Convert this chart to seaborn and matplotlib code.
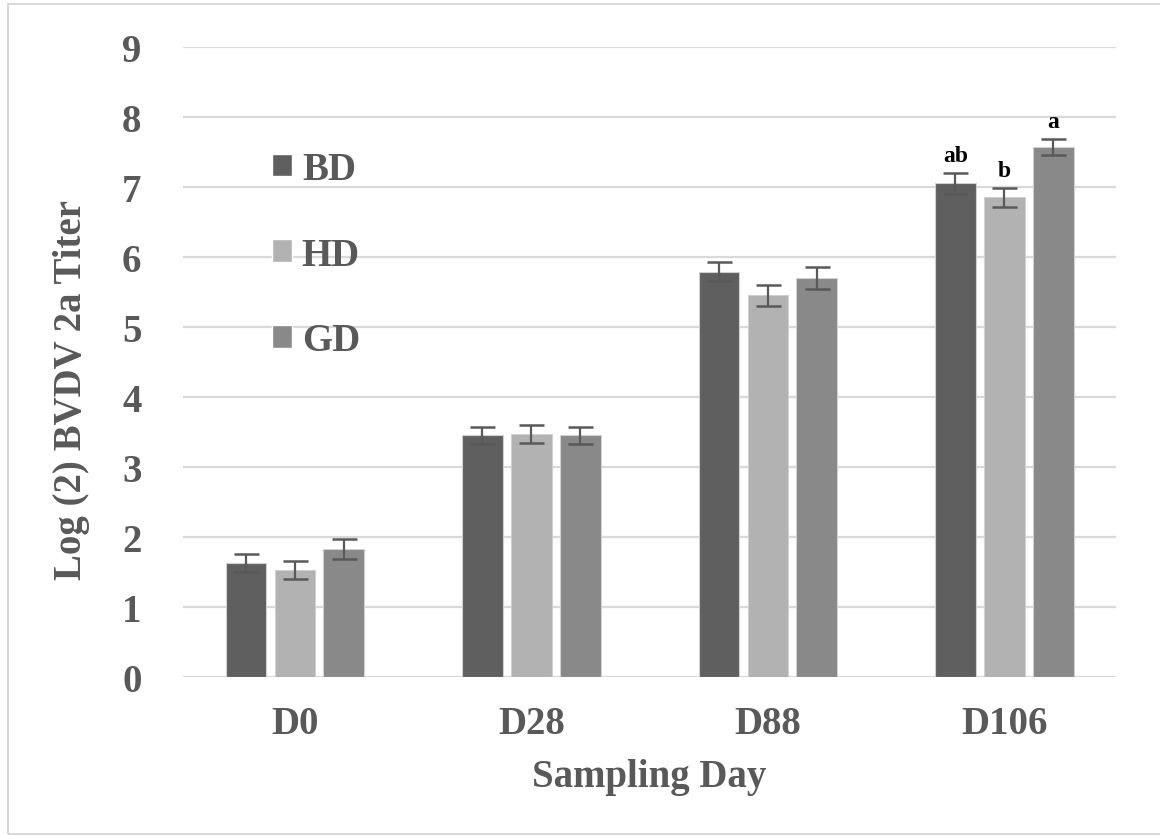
import numpy as np
import pandas as pd
import matplotlib.pyplot as plt
import seaborn as sns
from matplotlib.patches import Rectangle

# ============================
# Data
# ============================
days = ['D0', 'D28', 'D88', 'D106']
groups = ['BD', 'HD', 'GD']
bd_mean = [1.63, 3.45, 5.79, 7.05]
hd_mean = [1.53, 3.47, 5.45, 6.85]
gd_mean = [1.83, 3.45, 5.70, 7.57]
bd_err = [0.13, 0.12, 0.14, 0.15]
hd_err = [0.13, 0.13, 0.15, 0.13]
gd_err = [0.14, 0.12, 0.16, 0.12]
# significance letters on D106
sig_letters = ['ab', 'b', 'a']

colors = ['#5f5f5f', '#b2b2b2', '#898989']
text_col = '#595959'

df = pd.DataFrame({
    'day': days * 3,
    'group': [g for g in groups for _ in days],
    'titer': bd_mean + hd_mean + gd_mean,
})
errs = [bd_err, hd_err, gd_err]

# ============================
# Plot
# ============================
sns.set_style('white')
plt.rcParams['font.family'] = ['Liberation Serif', 'DejaVu Serif']
plt.rcParams['font.weight'] = 'bold'

fig = plt.figure(figsize=(11.6, 8.37), dpi=100)
ax = fig.add_axes([0.158, 0.19, 0.804, 0.7527])

sns.barplot(data=df, x='day', y='titer', hue='group', order=days, hue_order=groups,
            palette=colors, width=0.62, gap=0.17, ax=ax, legend=False,
            edgecolor='#d0d0d0', linewidth=0.8, zorder=3)

# error bars + letters from bar positions
bar_conts = list(ax.containers)
for i, cont in enumerate(bar_conts):
    xs = [p.get_x() + p.get_width() / 2 for p in cont.patches]
    hs = [p.get_height() for p in cont.patches]
    ax.errorbar(xs, hs, yerr=errs[i], fmt='none', ecolor=text_col,
                elinewidth=1.6, capsize=9, capthick=1.8, zorder=4)
    ax.text(xs[-1], hs[-1] + errs[i][-1] + 0.1, sig_letters[i], ha='center', va='bottom',
            fontsize=17, fontweight='bold', color='black')

ax.set_ylim(0, 9)
ax.set_yticks(range(0, 10))
ax.yaxis.grid(True, color='#d9d9d9', linewidth=1.6, zorder=0)
ax.set_axisbelow(True)
for s in ax.spines.values():
    s.set_visible(False)
ax.tick_params(axis='both', length=0, labelsize=28, labelcolor=text_col)
ax.tick_params(axis='y', pad=30)
ax.tick_params(axis='x', pad=20)
ax.set_xlabel('Sampling Day', fontsize=28, fontweight='bold', color=text_col, labelpad=12)
ax.set_ylabel('Log (2) BVDV 2a Titer', fontsize=28, fontweight='bold', color=text_col)
ax.yaxis.set_label_coords(-0.10, 0.457)

handles = [Rectangle((0, 0), 1, 1, facecolor=c) for c in colors]
leg = ax.legend(handles, groups, loc='upper left', bbox_to_anchor=(0.095, 0.835),
                frameon=False, fontsize=28, handlelength=0.52, handleheight=0.52,
                handletextpad=0.25, labelspacing=1.25, borderpad=0, borderaxespad=0)
for t in leg.get_texts():
    t.set_color(text_col)
    t.set_fontweight('bold')

# light figure border
fig.patches.append(Rectangle((0.007, 0.002), 1.0, 0.992, transform=fig.transFigure,
                             fill=False, edgecolor='#d9d9d9', linewidth=1.5))

fig.savefig('out.png', dpi=100)
